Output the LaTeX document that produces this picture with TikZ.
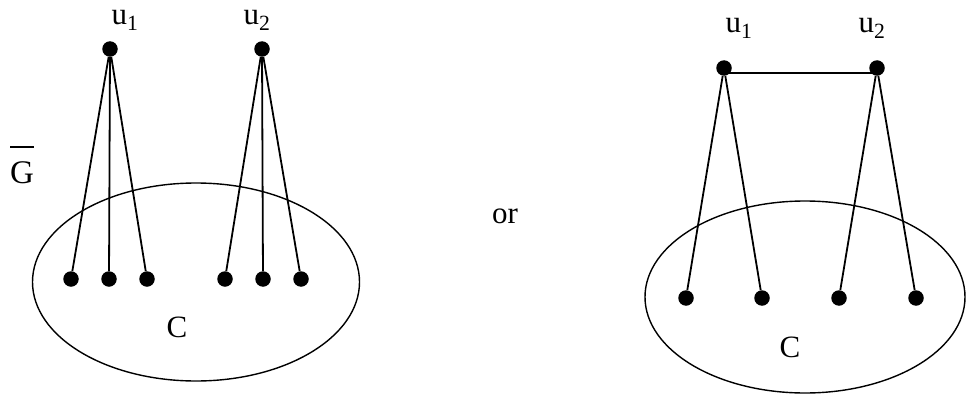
\documentclass[tikz,border=0pt]{standalone}
\usepackage{fontspec}
\setmainfont{Liberation Serif}
\usepackage{tikz}
\usetikzlibrary{shapes.geometric}

\begin{document}
\begin{tikzpicture}[
    x=1pt, y=-1pt,
    vtx/.style={circle, fill, inner sep=0pt, minimum size=15.5pt},
    edge/.style={line width=1.8pt},
    clique/.style={ellipse, draw, line width=1.4pt, inner sep=0pt},
    lbl/.style={anchor=base, inner sep=0pt, font=\fontsize{31}{36}\selectfont},
]
\useasboundingbox (0,0) rectangle (966,396);

% --- left: complement graph ---
\node[clique, minimum width=327pt, minimum height=198pt] (lC) at (196,282) {};

\node[vtx] (lu1) at (110,49) {};
\node[vtx] (lu2) at (262,49) {};
\node[lbl] (lu1lab) at (125,25) {u\textsubscript{1}};
\node[lbl] (lu2lab) at (257,25) {u\textsubscript{2}};

\node[vtx] (la) at (71,279)  {};
\node[vtx] (lb) at (109,279) {};
\node[vtx] (lc) at (147,279) {};
\node[vtx] (ld) at (225,279) {};
\node[vtx] (le) at (263,279) {};
\node[vtx] (lf) at (301,279) {};

\draw[edge] (lu1) -- (la);
\draw[edge] (lu1) -- (lb);
\draw[edge] (lu1) -- (lc);
\draw[edge] (lu2) -- (ld);
\draw[edge] (lu2) -- (le);
\draw[edge] (lu2) -- (lf);

\node[lbl] (lClab) at (177,337) {C};
\node[lbl, font=\fontsize{33}{38}\selectfont] (gbar) at (22,183)
    {\rlap{\rule[35pt]{24pt}{1.8pt}}G};

% --- middle ---
\node[lbl] (or) at (505,223) {or};

% --- right: u1 and u2 adjacent ---
\node[clique, minimum width=320pt, minimum height=192pt] (rC) at (805,297) {};

\node[vtx] (ru1) at (724,68) {};
\node[vtx] (ru2) at (877,68) {};
\node[lbl] (ru1lab) at (739,33) {u\textsubscript{1}};
\node[lbl] (ru2lab) at (872,33) {u\textsubscript{2}};

\node[vtx] (ra) at (686,298) {};
\node[vtx] (rb) at (762,298) {};
\node[vtx] (rc) at (839,298) {};
\node[vtx] (rd) at (916,298) {};

\draw[edge] ([yshift=-5pt]ru1.center) -- ([yshift=-5pt]ru2.center);
\draw[edge] (ru1) -- (ra);
\draw[edge] (ru1) -- (rb);
\draw[edge] (ru2) -- (rc);
\draw[edge] (ru2) -- (rd);

\node[lbl] (rClab) at (790,357) {C};

\end{tikzpicture}
\end{document}
